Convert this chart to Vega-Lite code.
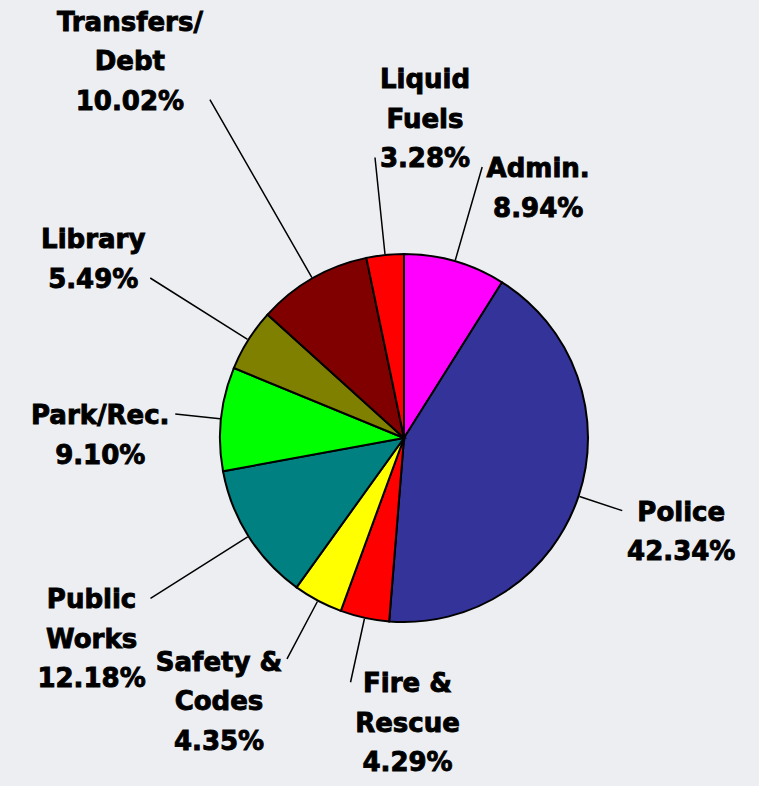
{
  "$schema": "https://vega.github.io/schema/vega-lite/v6.json",
  "width": 710,
  "height": 696,
  "autosize": {"type": "none"},
  "padding": {"left": 49, "top": 90, "right": 0, "bottom": 0},
  "background": "#eceef1",
  "config": {
    "view": {"stroke": null},
    "text": {"font": "DejaVu Sans", "fontSize": 26, "fontWeight": "bold", "lineHeight": 39.5, "lineBreak": "\n", "fill": "#000", "stroke": "#000", "strokeWidth": 0.9, "align": "center", "baseline": "top"}
  },
  "data": {
    "values": [
      {"idx": 1, "category": "Admin", "value": 8.94, "label": "Admin.\n8.94%"},
      {"idx": 2, "category": "Police", "value": 42.34, "label": "Police\n42.34%"},
      {"idx": 3, "category": "Fire & Rescue", "value": 4.29, "label": "Fire &\nRescue\n4.29%"},
      {"idx": 4, "category": "Safety & Codes", "value": 4.35, "label": "Safety &\nCodes\n4.35%"},
      {"idx": 5, "category": "Public Works", "value": 12.18, "label": "Public\nWorks\n12.18%"},
      {"idx": 6, "category": "Park/Rec.", "value": 9.10, "label": "Park/Rec.\n9.10%"},
      {"idx": 7, "category": "Library", "value": 5.49, "label": "Library\n5.49%"},
      {"idx": 8, "category": "Transfers/Debt", "value": 10.02, "label": "Transfers/\nDebt\n10.02%"},
      {"idx": 9, "category": "Liquid Fuels", "value": 3.28, "label": "Liquid\nFuels\n3.28%"}
    ]
  },
  "encoding": {
    "theta": {"field": "value", "type": "quantitative", "stack": true},
    "order": {"field": "idx", "type": "quantitative"}
  },
  "layer": [
    {
      "mark": {"type": "arc", "radius": 184, "stroke": "#000", "strokeWidth": 2},
      "encoding": {
        "color": {
          "field": "category", "type": "nominal", "legend": null,
          "scale": {
            "domain": ["Admin", "Police", "Fire & Rescue", "Safety & Codes", "Public Works", "Park/Rec.", "Library", "Transfers/Debt", "Liquid Fuels"],
            "range": ["#ff00ff", "#333399", "#ff0000", "#ffff00", "#008080", "#00ff00", "#808000", "#800000", "#ff0000"]
          }
        }
      }
    },
    {
      "mark": {"type": "arc", "radius": 230, "radius2": 185, "padAngle": 3.1, "fillOpacity": 0, "stroke": "#000", "strokeWidth": 1.5},
      "encoding": {"opacity": {"condition": {"test": "indexof(['Police','Park/Rec.'], datum.category) >= 0", "value": 1}, "value": 0}}
    },
    {
      "mark": {"type": "arc", "radius": 250, "radius2": 185, "padAngle": 3.1, "fillOpacity": 0, "stroke": "#000", "strokeWidth": 1.5},
      "encoding": {"opacity": {"condition": {"test": "indexof(['Fire & Rescue','Safety & Codes'], datum.category) >= 0", "value": 1}, "value": 0}}
    },
    {
      "mark": {"type": "arc", "radius": 282, "radius2": 185, "padAngle": 3.1, "fillOpacity": 0, "stroke": "#000", "strokeWidth": 1.5},
      "encoding": {"opacity": {"condition": {"test": "indexof(['Admin','Liquid Fuels'], datum.category) >= 0", "value": 1}, "value": 0}}
    },
    {
      "mark": {"type": "arc", "radius": 300, "radius2": 185, "padAngle": 3.1, "fillOpacity": 0, "stroke": "#000", "strokeWidth": 1.5},
      "encoding": {"opacity": {"condition": {"test": "indexof(['Library','Public Works'], datum.category) >= 0", "value": 1}, "value": 0}}
    },
    {
      "mark": {"type": "arc", "radius": 390, "radius2": 185, "padAngle": 3.1, "fillOpacity": 0, "stroke": "#000", "strokeWidth": 1.5},
      "encoding": {"opacity": {"condition": {"test": "indexof(['Transfers/Debt'], datum.category) >= 0", "value": 1}, "value": 0}}
    },
    {
      "mark": {"type": "text", "radius": 230, "dx": 59, "dy": -11},
      "encoding": {"text": {"field": "label"}, "opacity": {"condition": {"test": "datum.category === 'Police'", "value": 1}, "value": 0}}
    },
    {
      "mark": {"type": "text", "radius": 230, "dx": -75, "dy": -11},
      "encoding": {"text": {"field": "label"}, "opacity": {"condition": {"test": "datum.category === 'Park/Rec.'", "value": 1}, "value": 0}}
    },
    {
      "mark": {"type": "text", "radius": 250, "dx": 57, "dy": -11},
      "encoding": {"text": {"field": "label"}, "opacity": {"condition": {"test": "datum.category === 'Fire & Rescue'", "value": 1}, "value": 0}}
    },
    {
      "mark": {"type": "text", "radius": 282, "dx": 56, "dy": -11},
      "encoding": {"text": {"field": "label"}, "opacity": {"condition": {"test": "datum.category === 'Admin'", "value": 1}, "value": 0}}
    },
    {
      "mark": {"type": "text", "radius": 282, "dx": 50, "dy": -90},
      "encoding": {"text": {"field": "label"}, "opacity": {"condition": {"test": "datum.category === 'Liquid Fuels'", "value": 1}, "value": 0}}
    },
    {
      "mark": {"type": "text", "radius": 250, "dx": -68, "dy": -9},
      "encoding": {"text": {"field": "label"}, "opacity": {"condition": {"test": "datum.category === 'Safety & Codes'", "value": 1}, "value": 0}}
    },
    {
      "mark": {"type": "text", "radius": 300, "dx": -57, "dy": -50.5},
      "encoding": {"text": {"field": "label"}, "opacity": {"condition": {"test": "datum.category === 'Library'", "value": 1}, "value": 0}}
    },
    {
      "mark": {"type": "text", "radius": 300, "dx": -59, "dy": -11},
      "encoding": {"text": {"field": "label"}, "opacity": {"condition": {"test": "datum.category === 'Public Works'", "value": 1}, "value": 0}}
    },
    {
      "mark": {"type": "text", "radius": 390, "dx": -80, "dy": -90},
      "encoding": {"text": {"field": "label"}, "opacity": {"condition": {"test": "datum.category === 'Transfers/Debt'", "value": 1}, "value": 0}}
    }
  ]
}
